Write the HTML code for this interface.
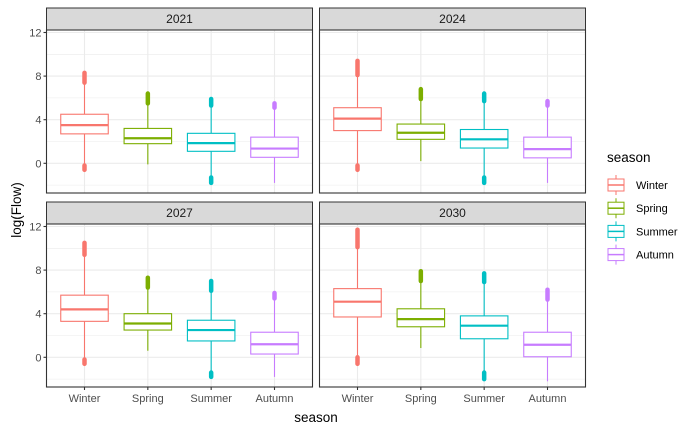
<!DOCTYPE html>
<html><head><meta charset="utf-8"><style>
html,body{margin:0;padding:0;background:#fff;}
svg{display:block;font-family:"Liberation Sans",Arial,sans-serif;}
</style></head><body>
<svg id="chart" width="700" height="432" viewBox="0 0 700 432"></svg>
<script>
const categories = ["Winter","Spring","Summer","Autumn"];
const years = ["2021","2024","2027","2030"];
const colors = ["#F8766D","#7CAE00","#00BFC4","#C77CFF"];
const yTicks = [0,4,8,12];
// per year, per season: [whiskerLo, q1, median, q3, whiskerHi]
const q2021 = [[-0.1,2.7,3.5,4.5,7.3],[-0.1,1.8,2.3,3.2,5.4],[-1.2,1.1,1.85,2.75,5.2],[-1.8,0.55,1.35,2.4,5.0]];
const q2024 = [[-0.1,3.0,4.1,5.1,8.0],[0.2,2.2,2.8,3.6,5.8],[-1.2,1.4,2.2,3.1,5.6],[-1.8,0.5,1.3,2.4,5.2]];
const q2027 = [[-0.1,3.3,4.4,5.7,9.3],[0.6,2.5,3.1,4.0,6.3],[-1.3,1.5,2.5,3.4,6.0],[-1.8,0.3,1.2,2.3,5.3]];
const q2030 = [[0.0,3.7,5.1,6.3,10.1],[0.85,2.8,3.5,4.45,7.0],[-1.4,1.7,2.9,3.8,6.9],[-2.2,0.05,1.15,2.3,5.3]];
// outlier extents: [lowMin, lowMax] or null, [highMin, highMax] or null
const o2021 = [[[-0.6,-0.2],[7.4,8.3]],[null,[5.5,6.4]],[[-1.8,-1.3],[5.3,5.9]],[null,[5.1,5.5]]];
const o2024 = [[[-0.6,-0.2],[8.1,9.4]],[null,[5.9,6.8]],[[-1.8,-1.3],[5.7,6.4]],[null,[5.3,5.7]]];
const o2027 = [[[-0.6,-0.2],[9.4,10.5]],[null,[6.4,7.3]],[[-1.8,-1.4],[6.1,7.0]],[null,[5.4,5.9]]];
const o2030 = [[[-0.6,0.0],[10.1,11.7]],[null,[7.0,7.9]],[[-2.0,-1.4],[6.9,7.7]],[null,[5.3,6.2]]];
const quart = [q2021,q2024,q2027,q2030];
const outl = [o2021,o2024,o2027,o2030];

const NS="http://www.w3.org/2000/svg";
const svg=document.getElementById('chart');
function mk(tag,attrs,parent){const e=document.createElementNS(NS,tag);for(const k in attrs)e.setAttribute(k,attrs[k]);(parent||svg).appendChild(e);return e;}
const panels=[{x:46.5,y:30},{x:319.5,y:30},{x:46.5,y:224},{x:319.5,y:224}];
const PW=266, PH=163;
function yScale(p,v){return p.y+2.5+(12-v)*10.9;}
function xScale(p,i){return p.x+(i+0.6)*PW/4.2;}
const bw=0.75*PW/4.2;

panels.forEach((p,pi)=>{
  const g=mk('g',{});
  
  
  const strip=mk('rect',{x:p.x,y:p.y-22,width:PW,height:22,fill:'#D9D9D9',stroke:'#333','stroke-width':1},g);
  
  
  const st=mk('text',{x:p.x+PW/2,y:p.y-7,'text-anchor':'middle','font-size':12,fill:'#1A1A1A'},g);
  st.textContent=years[pi];
  
  
  // grid
  for(let v=-2;v<=12;v+=2){const yy=yScale(p,v);if(yy>p.y+PH)continue;
    mk('line',{x1:p.x,x2:p.x+PW,y1:yy,y2:yy,stroke:'#EBEBEB','stroke-width':v%4===0?1.1:0.55},g);}
  categories.forEach((c,i)=>{const xx=xScale(p,i);mk('line',{x1:xx,x2:xx,y1:p.y,y2:p.y+PH,stroke:'#EBEBEB','stroke-width':1.1},g);});
  // boxes
  categories.forEach((c,i)=>{
    const q=quart[pi][i], o=outl[pi][i], col=colors[i], xx=xScale(p,i);
    const bg=mk('g',{},g);
    
    
    mk('line',{x1:xx,x2:xx,y1:yScale(p,q[3]),y2:yScale(p,q[4]),stroke:col,'stroke-width':1.1},bg);
    mk('line',{x1:xx,x2:xx,y1:yScale(p,q[1]),y2:yScale(p,q[0]),stroke:col,'stroke-width':1.1},bg);
    mk('rect',{x:xx-bw/2,y:yScale(p,q[3]),width:bw,height:yScale(p,q[1])-yScale(p,q[3]),fill:'#fff',stroke:col,'stroke-width':1.1},bg);
    mk('line',{x1:xx-bw/2,x2:xx+bw/2,y1:yScale(p,q[2]),y2:yScale(p,q[2]),stroke:col,'stroke-width':2.2},bg);
    o.forEach(r=>{if(!r)return;
      mk('line',{x1:xx,x2:xx,y1:yScale(p,r[0]),y2:yScale(p,r[1]),stroke:col,'stroke-width':4.5,'stroke-linecap':'round'},bg);});
  });
  mk('rect',{x:p.x,y:p.y,width:PW,height:PH,fill:'none',stroke:'#333','stroke-width':1.1},g);
  // y axis for left panels
  if(p.x<100){yTicks.forEach(v=>{const yy=yScale(p,v);
    mk('line',{x1:p.x-3,x2:p.x,y1:yy,y2:yy,stroke:'#333','stroke-width':1.1},g);
    const t=mk('text',{x:p.x-5,y:yy+4,'text-anchor':'end','font-size':11,fill:'#4D4D4D'},g);t.textContent=v;
    
    });}
  if(p.y>100){categories.forEach((c,i)=>{const xx=xScale(p,i);
    mk('line',{x1:xx,x2:xx,y1:p.y+PH,y2:p.y+PH+3,stroke:'#333','stroke-width':1.1},g);
    const t=mk('text',{x:xx,y:p.y+PH+15,'text-anchor':'middle','font-size':11,fill:'#4D4D4D'},g);t.textContent=c;
    
    });}
});
const xt=mk('text',{x:316,y:422,'text-anchor':'middle','font-size':13.5,fill:'#000'});xt.textContent='season';


const yt=mk('text',{x:21,y:210,'text-anchor':'middle','font-size':13.5,fill:'#000',transform:'rotate(-90 21 210)'});yt.textContent='log(Flow)';


// legend
const lg=mk('g',{});


const lt=mk('text',{x:607,y:162,'font-size':13.5,fill:'#000'},lg);lt.textContent='season';
categories.forEach((c,i)=>{const cy=185+i*23.2, cx=616;
  const e=mk('g',{},lg);
  
  
  mk('line',{x1:cx,x2:cx,y1:cy-10,y2:cy+10,stroke:colors[i],'stroke-width':1},e);
  mk('rect',{x:cx-8,y:cy-6,width:16,height:12,fill:'#fff',stroke:colors[i],'stroke-width':1},e);
  mk('line',{x1:cx-8,x2:cx+8,y1:cy,y2:cy,stroke:colors[i],'stroke-width':1.5},e);
  const t=mk('text',{x:636,y:cy+4,'font-size':11,fill:'#000'},e);t.textContent=c;
});
</script>
</body></html>
